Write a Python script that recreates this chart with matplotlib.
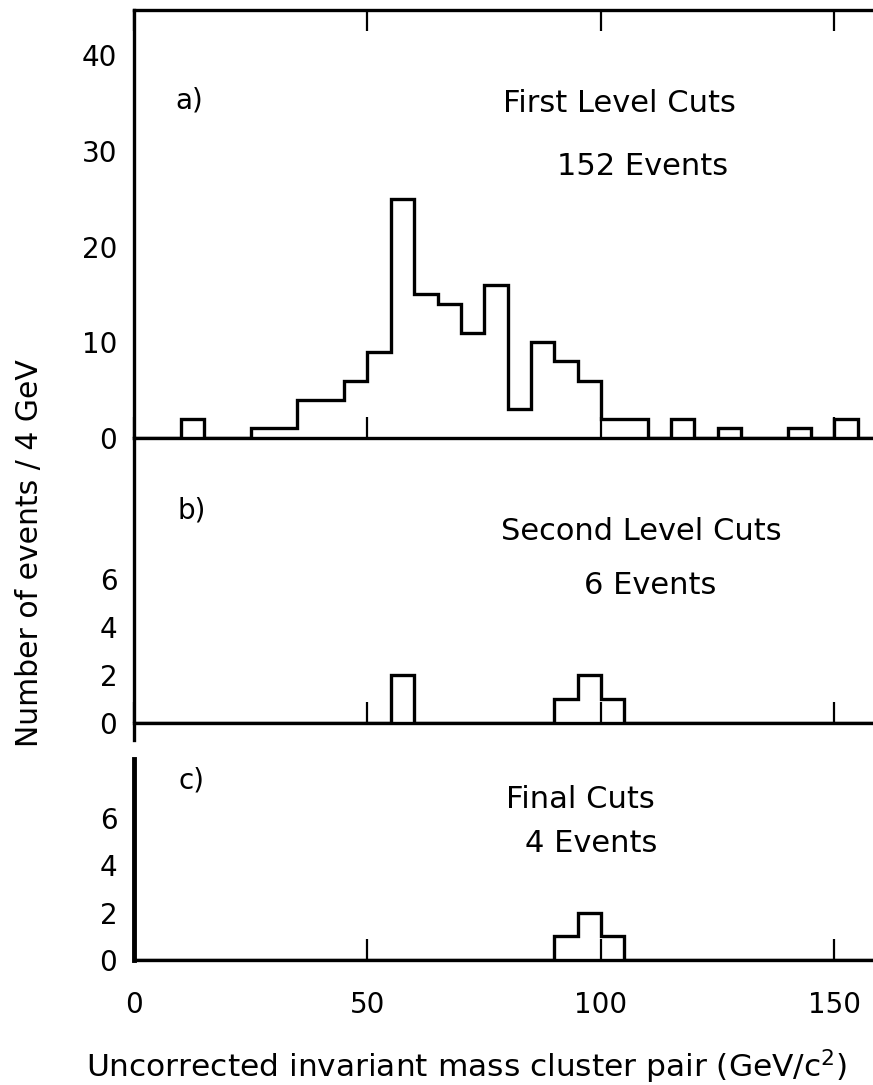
import numpy as np
import matplotlib
matplotlib.use("Agg")
import matplotlib.pyplot as plt

# bin edges in GeV (5 GeV wide bins as drawn)
edges = [0, 5, 10, 15, 20, 25, 30, 35, 40, 45, 50, 55, 60, 65, 70, 75, 80,
         85, 90, 95, 100, 105, 110, 115, 120, 125, 130, 135, 140, 145, 150,
         155, 160]

# a) first level cuts, 152 events
counts_a = [0, 0, 2, 0, 0, 1, 1, 4, 4, 6, 9, 25, 15, 14, 11, 16, 3,
            10, 8, 6, 2, 2, 0, 2, 0, 1, 0, 0, 1, 0, 2, 0]
# b) second level cuts, 6 events
counts_b = [0] * 11 + [2] + [0] * 6 + [1, 2, 1] + [0] * 11
# c) final cuts, 4 events
counts_c = [0] * 18 + [1, 2, 1] + [0] * 11

xticks = [0, 50, 100, 150]
yticks_a = [0, 10, 20, 30, 40]
yticks_bc = [0, 2, 4, 6]

W, H = 873, 1085
fig = plt.figure(figsize=(W / 100, H / 100), dpi=100)
plt.rcParams['font.family'] = ['DejaVu Sans']

left, right = 134, 873
xmax = (right - left) / 4.67


def box(top, bottom):
    return [left / W, 1 - bottom / H, (right - left) / W, (bottom - top) / H]


lw = 2.4
fs = 20
fs_txt = 22

ax_a = fig.add_axes(box(10, 438))
ax_b = fig.add_axes(box(438, 723))
ax_c = fig.add_axes(box(723, 960))

panels = [
    (ax_a, counts_a, 428 / 9.575, yticks_a, 'a)', 'First Level Cuts', '152 Events',
     (189, 100), (619, 103), (643, 167)),
    (ax_b, counts_b, 285 / 24.0, yticks_bc, 'b)', 'Second Level Cuts', '6 Events',
     (192, 510), (641, 532), (650, 585)),
    (ax_c, counts_c, 237 / 23.65, yticks_bc, 'c)', 'Final Cuts', '4 Events',
     (191, 780), (580, 799), (591, 844)),
]

for ax, counts, ytop, yt, tag, t1, t2, ptag, p1, p2 in panels:
    ax.stairs(counts, edges, color='black', linewidth=lw, baseline=0)
    ax.set_xlim(0, xmax)
    ax.set_ylim(0, ytop)
    ax.set_yticks(yt)
    ax.set_xticks(xticks)
    for s in ['right', 'top']:
        ax.spines[s].set_visible(False)
    ax.spines['left'].set_linewidth(lw)
    ax.spines['bottom'].set_linewidth(lw)
    ax.tick_params(axis='y', length=0, labelsize=fs, pad=12)
    ax.tick_params(axis='x', direction='in', length=15, width=1.6,
                   labelsize=fs, pad=22)
    if ax is not ax_c:
        ax.tick_params(axis='x', labelbottom=False)
    ax.patch.set_alpha(0)
    fig.text(ptag[0] / W, 1 - ptag[1] / H, tag, fontsize=fs,
             ha='center', va='center')
    fig.text(p1[0] / W, 1 - p1[1] / H, t1, fontsize=fs_txt,
             ha='center', va='center')
    fig.text(p2[0] / W, 1 - p2[1] / H, t2, fontsize=fs_txt,
             ha='center', va='center')

# top frame of panel a with inward ticks
ax_a.spines['top'].set_visible(True)
ax_a.spines['top'].set_linewidth(lw)
ax_a.tick_params(axis='x', top=True)

# panel b frame runs a little past its baseline
ax_b.spines['left'].set_bounds(-0.7, 285 / 24.0)

# panel c: heavier left frame and a single tick at 2
ax_c.spines['left'].set_linewidth(3.5)
ax_c.spines['left'].set_bounds(0, 8.5)
ax_c.tick_params(axis='y', length=15, width=1.6, direction='in')
for t in ax_c.yaxis.get_major_ticks():
    if t.get_loc() != 2:
        t.tick1line.set_visible(False)

fig.text(30 / W, 1 - 553 / H, 'Number of events / 4 GeV', fontsize=21.5,
         rotation=90, ha='center', va='center')
fig.text(86 / W, 1 - 1067 / H,
         'Uncorrected invariant mass cluster pair (GeV/c$^2$)',
         fontsize=22.5, ha='left', va='center')

fig.savefig('out.png', dpi=100)
